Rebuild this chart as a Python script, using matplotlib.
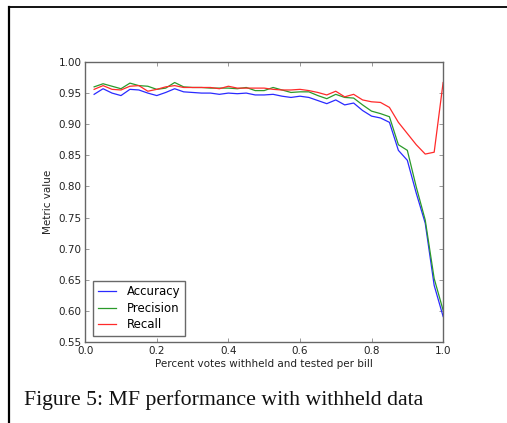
"""MF performance with withheld data (figure 5 reproduction)."""
import matplotlib
matplotlib.use('Agg')
import matplotlib.pyplot as plt
from matplotlib.lines import Line2D

# fraction of votes withheld per bill
withheld = [0.025 * k for k in range(1, 41)]

accuracy = [0.948, 0.957, 0.950, 0.946, 0.956, 0.955, 0.950, 0.946, 0.951, 0.957,
            0.952, 0.951, 0.950, 0.950, 0.948, 0.950, 0.949, 0.950, 0.947, 0.947,
            0.948, 0.945, 0.943, 0.945, 0.943, 0.938, 0.933, 0.939, 0.931, 0.934,
            0.922, 0.913, 0.910, 0.903, 0.858, 0.842, 0.789, 0.741, 0.641, 0.591]
precision = [0.960, 0.965, 0.961, 0.957, 0.966, 0.962, 0.961, 0.956, 0.958, 0.967,
             0.960, 0.959, 0.959, 0.958, 0.958, 0.958, 0.957, 0.959, 0.954, 0.954,
             0.959, 0.955, 0.951, 0.952, 0.952, 0.946, 0.941, 0.948, 0.943, 0.942,
             0.931, 0.921, 0.917, 0.912, 0.867, 0.858, 0.799, 0.746, 0.652, 0.601]
recall = [0.956, 0.962, 0.956, 0.955, 0.961, 0.962, 0.953, 0.956, 0.960, 0.962,
          0.959, 0.959, 0.959, 0.959, 0.957, 0.961, 0.958, 0.958, 0.958, 0.958,
          0.956, 0.955, 0.955, 0.956, 0.954, 0.951, 0.947, 0.953, 0.944, 0.948,
          0.939, 0.936, 0.935, 0.927, 0.903, 0.885, 0.867, 0.852, 0.855, 0.967]

SERIES = [('Accuracy', accuracy, '#2a2aff'),
          ('Precision', precision, '#2a9a2a'),
          ('Recall', recall, '#ff2a2a')]
X_TICKS = [0.0, 0.2, 0.4, 0.6, 0.8, 1.0]
Y_TICKS = [0.55, 0.60, 0.65, 0.70, 0.75, 0.80, 0.85, 0.90, 0.95, 1.00]

fig = plt.figure(figsize=(5.07, 4.23), dpi=100)

# page border lines from the surrounding document
fig.add_artist(Line2D([0.017, 1.0], [0.983, 0.983], color='black', lw=1.3,
                      transform=fig.transFigure))
fig.add_artist(Line2D([0.018, 0.018], [0.0, 0.983], color='black', lw=1.6,
                      transform=fig.transFigure))

ax = fig.add_axes([0.168, 0.1915, 0.706, 0.662])
for label, vals, col in SERIES:
    ax.plot(withheld, vals, color=col, lw=0.9, label=label)

ax.set_xlim(0.0, 1.0)
ax.set_ylim(0.55, 1.00)
ax.set_xticks(X_TICKS)
ax.set_yticks(Y_TICKS)
ax.set_xticklabels([f'{t:.1f}' for t in X_TICKS])
ax.set_yticklabels([f'{t:.2f}' for t in Y_TICKS])
ax.tick_params(direction='in', length=3, width=0.6, colors='#888888',
               labelcolor='#222222', labelsize=7.5, top=True, right=True)
ax.tick_params(axis='x', pad=3)
ax.tick_params(axis='y', pad=2.5)
for sp in ax.spines.values():
    sp.set_color('#666666')
    sp.set_linewidth(1.0)

ax.set_xlabel('Percent votes withheld and tested per bill', fontsize=7.5,
              color='#222222', labelpad=2)
ax.set_ylabel('Metric value', fontsize=7.5, color='#222222', labelpad=4)

leg = ax.legend(loc='lower left', fontsize=8.5, fancybox=False,
                handlelength=1.6, borderpad=0.4, labelspacing=0.3,
                handletextpad=0.9, bbox_to_anchor=(0.005, 0.0))
leg.get_frame().set_edgecolor('#444444')
leg.get_frame().set_linewidth(1.0)

fig.text(0.047, 0.042, 'Figure 5: MF performance with withheld data',
         fontsize=15.7, family='Liberation Serif', color='#111111')

fig.savefig('out.png', dpi=100)
